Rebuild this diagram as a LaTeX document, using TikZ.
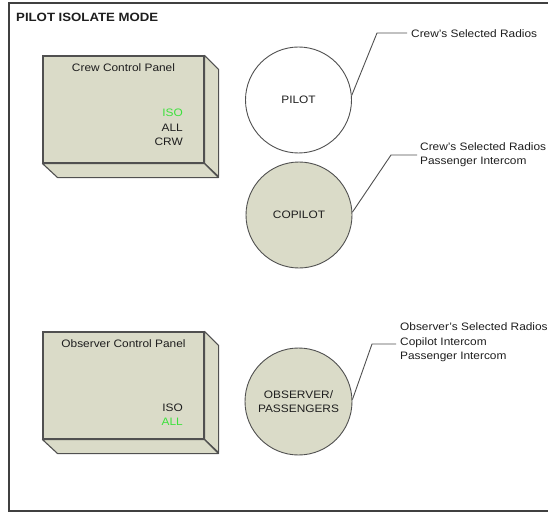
\documentclass[tikz,border=0pt]{standalone}
\usepackage{fontspec}
\setmainfont[FakeStretch=1.1]{Liberation Sans}
\definecolor{panelfill}{RGB}{218,219,200}
\definecolor{edge}{RGB}{80,80,80}
\definecolor{txt}{RGB}{30,30,30}
\definecolor{isogreen}{RGB}{60,225,60}
\begin{document}
\begin{tikzpicture}[x=1pt,y=-1pt,
  lbl/.style={font=\fontsize{10.8}{14.5}\selectfont, text=txt, inner sep=0pt},
  panel/.style={draw=edge, line width=1.1pt, fill=panelfill, minimum width=161pt, minimum height=107pt, inner sep=0pt},
  face/.style={draw=edge, line width=1.1pt, fill=panelfill, line join=round},
  disc/.style={circle, draw=edge, line width=0.9pt, minimum size=106pt, inner sep=0pt, font=\fontsize{10.8}{14.5}\selectfont, text=txt, align=center},
  leader/.style={draw=edge, line width=0.9pt},
  frame/.style={draw=edge!80!black, line width=1.4pt}
]
\useasboundingbox (0,0) rectangle (548,513);
% frame
\draw[frame] (560,3) -- (9,3) -- (9,511) -- (560,511);
\node[anchor=west, font=\bfseries\fontsize{12}{14}\selectfont, text=txt, inner sep=0pt] (title) at (16,17) {PILOT ISOLATE MODE};

% crew panel
\node[panel] (crew) at (123.5,109.5) {};
\draw[face] (crew.north east) -- ++(14,14) -- ++(0,107) -- (crew.south east) -- cycle;
\draw[face] (crew.south west) -- (crew.south east) -- ++(14,14) -- ++(-161,0) -- cycle;
\node[lbl] (crewt) at (123.5,68) {Crew Control Panel};
\node[lbl, anchor=east, text=isogreen] (ciso) at (183,113) {ISO};
\node[lbl, anchor=east] (call) at (183,127.5) {ALL};
\node[lbl, anchor=east] (ccrw) at (183,142) {CRW};

% observer panel
\node[panel] (obsp) at (123.5,385.5) {};
\draw[face] (obsp.north east) -- ++(14,14) -- ++(0,107) -- (obsp.south east) -- cycle;
\draw[face] (obsp.south west) -- (obsp.south east) -- ++(14,14) -- ++(-161,0) -- cycle;
\node[lbl] (obspt) at (123.5,344) {Observer Control Panel};
\node[lbl, anchor=east] (oiso) at (183,408) {ISO};
\node[lbl, anchor=east, text=isogreen] (oall) at (183,422) {ALL};

% circles
\node[disc, fill=white] (pilot) at (298.5,100) {PILOT};
\node[disc, fill=panelfill] (copilot) at (299,215) {COPILOT};
\node[disc, fill=panelfill, minimum size=107pt] (obs) at (298.5,401.5) {OBSERVER/\\PASSENGERS};

% leaders
\coordinate (p1) at (377,33);
\coordinate (p2) at (407,33);
\draw[leader] (pilot.5) -- (p1) -- (p2);
\node[lbl, anchor=west] (pt) at (411,34) {Crew’s Selected Radios};

\coordinate (c1) at (391,155);
\coordinate (c2) at (417,155);
\draw[leader] (copilot.3) -- (c1) -- (c2);
\node[lbl, anchor=west, align=left] (ct) at (420,154.5) {Crew’s Selected Radios\\Passenger Intercom};

\coordinate (o1) at (372,344);
\coordinate (o2) at (396,344);
\draw[leader] (obs.2) -- (o1) -- (o2);
\node[lbl, anchor=west, align=left] (ot) at (400,342.5) {Observer’s Selected Radios\\Copilot Intercom\\Passenger Intercom};
\end{tikzpicture}
\end{document}
